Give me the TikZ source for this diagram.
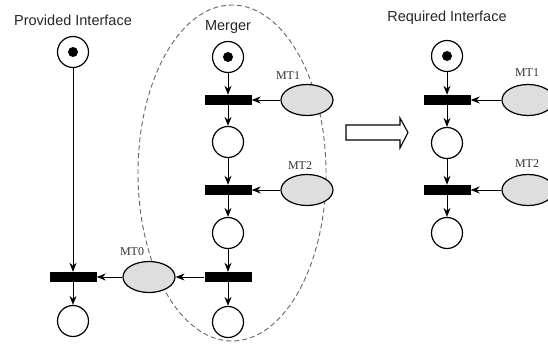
\documentclass[tikz,border=0pt]{standalone}
\usepackage{fontspec}
\setmainfont{Liberation Serif}
\setsansfont{Liberation Sans}
\usetikzlibrary{arrows.meta,shapes.geometric}
\begin{document}
\begin{tikzpicture}[x=1pt,y=-1pt,
 place/.style={circle,draw,line width=1.2pt,minimum size=31pt,inner sep=0pt},
 tok/.style={circle,fill=black,minimum size=10pt,inner sep=0pt},
 trans/.style={rectangle,fill=black,minimum width=47pt,minimum height=10pt,inner sep=0pt},
 mt/.style={ellipse,draw,fill=black!13,line width=1.2pt,minimum width=52pt,minimum height=31pt,inner sep=0pt},
 arc/.style={-{Stealth[length=9pt,width=7pt]},line width=1pt},
 title/.style={font=\sffamily\fontsize{14.5}{16}\selectfont,text=black!85},
 lab/.style={font=\fontsize{12}{13}\selectfont,text=black!80},
 bigarrow/.style={draw,line width=1.1pt,fill=white}]
\useasboundingbox (0,0) rectangle (548,345);
\clip (0,0) rectangle (548,345);

% dashed merger boundary
\draw[black!60,line width=0.9pt,dash pattern=on 5pt off 3pt] (232,173) ellipse [x radius=94pt, y radius=168pt];

% titles
\node[title] (tprov) at (73,20) {Provided Interface};
\node[title] (tmerg) at (228,27) {Merger};
\node[title] (treq) at (447,18) {Required Interface};

% provided interface
\node[place] (p0) at (73,52) {};
\node[tok] (p0t) at (p0) {};
\node[trans] (t0) at (73,277) {};
\node[place] (p0b) at (73,321) {};
\node[mt] (mt0) at (149,277) {};
\node[lab] (lmt0) at (132,252) {MT0};

% merger
\node[place] (m1) at (228,57) {};
\node[tok] (m1t) at (m1) {};
\node[trans] (mt1t) at (228,100) {};
\node[place] (m2) at (228,142) {};
\node[trans] (mt2t) at (228,190) {};
\node[place] (m3) at (228,233) {};
\node[trans] (t3) at (228,277) {};
\node[place] (m4) at (228,322) {};
\node[mt] (mt1) at (307,100) {};
\node[mt] (mt2) at (307,190) {};
\node[lab] (lmt1) at (288,76) {MT1};
\node[lab] (lmt2) at (300,166) {MT2};

% required interface
\node[place] (r1) at (447,56) {};
\node[tok] (r1t) at (r1) {};
\node[trans] (rt1) at (447,100) {};
\node[place] (r2) at (447,143) {};
\node[trans] (rt2) at (447,190) {};
\node[place] (r3) at (447,233) {};
\node[mt] (rmt1) at (528,100) {};
\node[mt] (rmt2) at (528,190) {};
\node[lab] (lrmt1) at (527,73) {MT1};
\node[lab] (lrmt2) at (527,164) {MT2};

% connectors
\draw[arc] (p0) -- (t0);
\draw[arc] (t0) -- (p0b);
\draw[arc] (mt0) -- (t0);

\draw[arc] (m1) -- (mt1t);
\draw[arc] (mt1t) -- (m2);
\draw[arc] (m2) -- (mt2t);
\draw[arc] (mt2t) -- (m3);
\draw[arc] (m3) -- (t3);
\draw[arc] (t3) -- (m4);
\draw[arc] (mt1) -- (mt1t);
\draw[arc] (mt2) -- (mt2t);
\draw[arc] (t3) -- (mt0);

\draw[arc] (r1) -- (rt1);
\draw[arc] (rt1) -- (r2);
\draw[arc] (r2) -- (rt2);
\draw[arc] (rt2) -- (r3);
\draw[arc] (rmt1) -- (rt1);
\draw[arc] (rmt2) -- (rt2);

% hollow arrow
\draw[bigarrow] (346,125) -- (400,125) -- (400,118) -- (408,132.5) -- (400,148) -- (400,140) -- (346,140) -- cycle;
\end{tikzpicture}
\end{document}
